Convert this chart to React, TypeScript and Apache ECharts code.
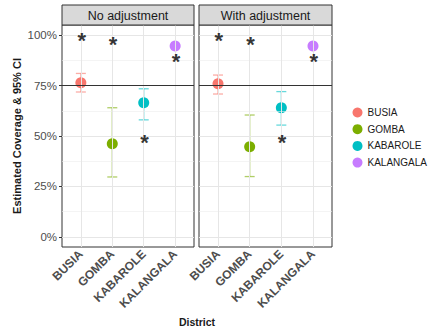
import React, { useEffect, useRef } from 'react';
import * as echarts from 'echarts';

const districts = ['BUSIA', 'GOMBA', 'KABAROLE', 'KALANGALA'];
const districtColors = ['#F8766D', '#7CAE00', '#00BFC4', '#C77CFF'];
const panelTitles = ['No adjustment', 'With adjustment'];

const estNoAdj = [76.4, 46.2, 66.5, 94.6];
const lowNoAdj = [71.8, 29.7, 58.0, 94.2];
const highNoAdj = [81.0, 64.0, 73.4, 95.0];
const starNoAdj = [98.7, 96.7, 48.4, 88.5];

const estAdj = [75.9, 44.7, 64.0, 94.6];
const lowAdj = [70.8, 29.9, 55.4, 94.2];
const highAdj = [80.2, 60.4, 72.0, 95.0];
const starAdj = [98.7, 96.7, 48.4, 88.5];

const yTicks = [0, 25, 50, 75, 100];
const yMinor = [12.5, 37.5, 62.5, 87.5];
const refLine = 75;

const FONT = 'Liberation Sans, Arial, Helvetica, sans-serif';

const panels = [
  { est: estNoAdj, low: lowNoAdj, high: highNoAdj, star: starNoAdj },
  { est: estAdj, low: lowAdj, high: highAdj, star: starAdj },
];

const gridBoxes = [
  { left: 62, width: 132 },
  { left: 199, width: 133 },
];
const gridTop = 25;
const gridHeight = 222;

function hexToRgba(hex: string, a: number) {
  const n = parseInt(hex.slice(1), 16);
  return `rgba(${(n >> 16) & 255},${(n >> 8) & 255},${n & 255},${a})`;
}

function buildOption() {
  const xIdx = districts.map((_, i) => i + 1);
  const grid = gridBoxes.map((b) => ({
    left: b.left,
    width: b.width,
    top: gridTop,
    height: gridHeight,
    show: true,
    backgroundColor: '#ffffff',
    borderColor: '#333333',
    borderWidth: 1,
    containLabel: false,
  }));

  const xAxis = gridBoxes.map((_, g) => ({
    type: 'value',
    gridIndex: g,
    min: 0.4,
    max: 4.6,
    axisLine: { show: false },
    splitLine: { show: false },
    axisTick: { show: true, customValues: xIdx, length: 3, lineStyle: { color: '#333333' } },
    axisLabel: {
      show: true,
      customValues: xIdx,
      formatter: (v: number) => districts[Math.round(v) - 1] ?? '',
      rotate: 45,
      margin: 5,
      fontSize: 12,
      fontWeight: 'bold',
      color: '#4d4d4d',
      fontFamily: FONT,
    },
  }));

  const yAxis = gridBoxes.map((_, g) => ({
    type: 'value',
    gridIndex: g,
    min: -5,
    max: 105,
    axisLine: { show: false },
    splitLine: { show: false },
    axisTick: { show: g === 0, customValues: yTicks, length: 3, lineStyle: { color: '#333333' } },
    axisLabel: {
      show: g === 0,
      customValues: yTicks,
      formatter: (v: number) => `${v}%`,
      margin: 5,
      fontSize: 11.5,
      color: '#4d4d4d',
      fontFamily: FONT,
    },
    name: g === 0 ? 'Estimated Coverage & 95% CI' : '',
    nameLocation: 'middle',
    nameGap: 40,
    nameTextStyle: { fontSize: 11, fontWeight: 'bold', color: '#1a1a1a', fontFamily: FONT },
  }));

  const series: any[] = [];

  panels.forEach((p, g) => {
    const gridLines: any[] = [];
    yMinor.forEach((v) => gridLines.push({ yAxis: v, lineStyle: { color: '#ececec', width: 0.6, type: 'solid' } }));
    yTicks.forEach((v) => gridLines.push({ yAxis: v, lineStyle: { color: '#e6e6e6', width: 1, type: 'solid' } }));
    xIdx.forEach((v) => gridLines.push({ xAxis: v, lineStyle: { color: '#e6e6e6', width: 1, type: 'solid' } }));
    gridLines.push({ yAxis: refLine, lineStyle: { color: '#333333', width: 1.1, type: 'solid' } });
    series.push({
      type: 'scatter',
      xAxisIndex: g,
      yAxisIndex: g,
      data: [],
      silent: true,
      z: 1,
      markLine: {
        silent: true,
        symbol: ['none', 'none'],
        label: { show: false },
        emphasis: { disabled: true },
        data: gridLines,
      },
    });

    series.push({
      type: 'custom',
      xAxisIndex: g,
      yAxisIndex: g,
      z: 3,
      silent: true,
      encode: { x: 0, y: [1, 2] },
      data: districts.map((_, i) => [i + 1, p.low[i], p.high[i], i]),
      renderItem: (params: any, api: any) => {
        const x = api.value(0);
        const lo = api.value(1);
        const hi = api.value(2);
        const i = api.value(3);
        const a = api.coord([x, lo]);
        const b = api.coord([x, hi]);
        const w = 5;
        const style = { stroke: hexToRgba(districtColors[i], 0.6), lineWidth: 1.3, fill: 'none' };
        return {
          type: 'group',
          children: [
            { type: 'line', shape: { x1: a[0], y1: a[1], x2: b[0], y2: b[1] }, style },
            { type: 'line', shape: { x1: a[0] - w, y1: a[1], x2: a[0] + w, y2: a[1] }, style },
            { type: 'line', shape: { x1: b[0] - w, y1: b[1], x2: b[0] + w, y2: b[1] }, style },
          ],
        };
      },
    });

    districts.forEach((d, i) => {
      series.push({
        type: 'scatter',
        name: d,
        xAxisIndex: g,
        yAxisIndex: g,
        z: 4,
        symbol: 'circle',
        symbolSize: 11,
        itemStyle: { color: districtColors[i], opacity: 1 },
        data: [[i + 1, p.est[i]]],
      });
    });

    series.push({
      type: 'scatter',
      xAxisIndex: g,
      yAxisIndex: g,
      z: 5,
      silent: true,
      symbol: 'circle',
      symbolSize: 1,
      itemStyle: { color: 'rgba(0,0,0,0)' },
      label: {
        show: true,
        position: 'inside',
        formatter: '*',
        fontSize: 22,
        fontWeight: 'bold',
        color: '#000000',
        fontFamily: FONT,
        offset: [0.8, 3],
      },
      data: districts.map((_, i) => [i + 1, p.star[i]]),
    });
  });

  const graphic: any[] = [];
  gridBoxes.forEach((b, g) => {
    graphic.push({
      type: 'rect',
      shape: { x: b.left, y: 5, width: b.width, height: 20 },
      style: { fill: '#d9d9d9', stroke: '#333333', lineWidth: 1 },
      z: 10,
    });
    graphic.push({
      type: 'text',
      x: b.left + b.width / 2,
      y: 15.5,
      z: 11,
      style: {
        text: panelTitles[g],
        textAlign: 'center',
        textVerticalAlign: 'middle',
        align: 'center',
        verticalAlign: 'middle',
        fontSize: 12.5,
        fill: '#1a1a1a',
        fontFamily: FONT,
      },
    });
  });
  graphic.push({
    type: 'text',
    x: (gridBoxes[0].left + gridBoxes[1].left + gridBoxes[1].width) / 2,
    y: 322,
    z: 11,
    style: {
      text: 'District',
      textAlign: 'center',
      textVerticalAlign: 'middle',
      align: 'center',
      verticalAlign: 'middle',
      fontSize: 10.5,
      fontWeight: 'bold',
      fill: '#1a1a1a',
      fontFamily: FONT,
    },
  });

  return {
    animation: false,
    backgroundColor: '#ffffff',
    grid,
    xAxis,
    yAxis,
    series,
    graphic,
    legend: {
      data: districts,
      orient: 'vertical',
      left: 352.5,
      top: 107.5,
      padding: 0,
      icon: 'circle',
      itemWidth: 10,
      itemHeight: 10,
      itemGap: 6.7,
      selectedMode: false,
      textStyle: { fontSize: 10, color: '#1a1a1a', fontFamily: FONT },
    },
  };
}

export default function App() {
  const ref = useRef<HTMLDivElement>(null);
  useEffect(() => {
    const chart = echarts.init(ref.current!, null, { renderer: 'svg' });
    chart.setOption(buildOption() as any);
    return () => chart.dispose();
  }, []);
  return (
    <div
      ref={ref}
      style={{ position: 'fixed', left: 0, top: 0, width: 430, height: 331, background: '#fff' }}
    />
  );
}
